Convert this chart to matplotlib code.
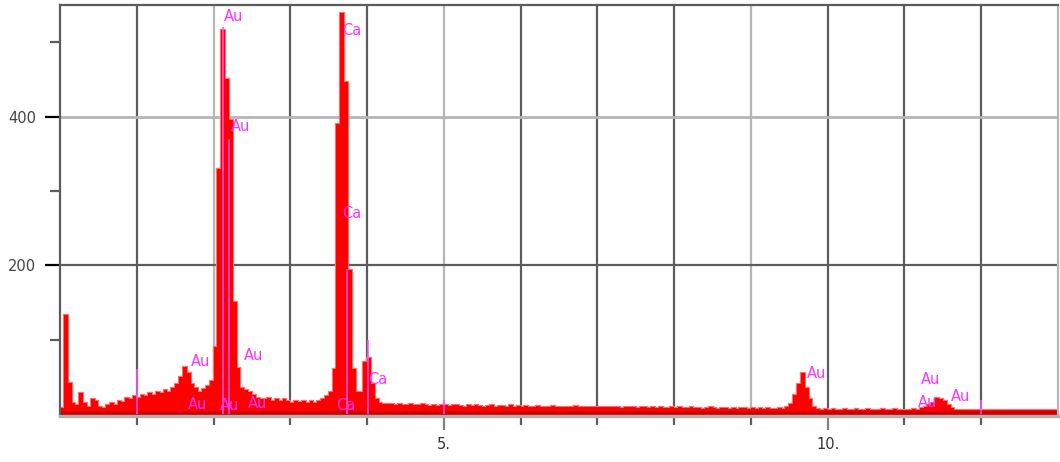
import numpy as np
import matplotlib
matplotlib.use("Agg")
import matplotlib.pyplot as plt

# ---------------- data ----------------
channel_width = 0.05  # keV per channel
counts = [
    # 0.00 - 0.95 keV
    8, 133, 42, 15, 12, 28, 15, 10, 20, 18, 10, 8, 12, 15, 12, 18, 16, 22, 20, 24,
    # 1.00 - 1.95
    22, 25, 24, 28, 26, 30, 28, 32, 30, 35, 40, 50, 63, 55, 40, 35, 30, 34, 38, 45,
    # 2.00 - 2.95
    90, 330, 516, 450, 395, 150, 62, 35, 32, 30, 25, 22, 20, 20, 22, 18, 20, 18, 20, 17,
    # 3.00 - 3.95
    15, 18, 16, 18, 15, 17, 15, 18, 20, 24, 30, 60, 390, 539, 447, 194, 60, 30, 30, 70,
    # 4.00 - 4.95
    75, 40, 20, 15, 14, 13, 14, 12, 13, 12, 12, 14, 12, 12, 13, 12, 11, 12, 11, 12,
    # 5.00 - 5.95
    12, 11, 12, 12, 11, 10, 12, 11, 12, 11, 10, 11, 12, 10, 11, 11, 10, 12, 10, 11,
    # 6.00 - 6.95
    10, 11, 10, 10, 11, 10, 9, 10, 11, 10, 9, 10, 10, 9, 11, 10, 9, 10, 9, 10,
    # 7.00 - 7.95
    9, 10, 9, 9, 10, 9, 8, 9, 10, 9, 8, 9, 9, 8, 9, 8, 9, 8, 8, 9,
    # 8.00 - 8.95
    8, 9, 8, 8, 9, 8, 8, 7, 8, 9, 8, 7, 8, 8, 7, 8, 7, 8, 8, 7,
    # 9.00 - 9.95
    8, 7, 8, 7, 8, 7, 7, 8, 7, 10, 14, 25, 40, 55, 35, 20, 10, 7, 6, 7,
    # 10.00 - 10.95
    6, 7, 6, 6, 7, 6, 6, 7, 6, 6, 7, 6, 6, 6, 7, 6, 6, 7, 6, 6,
    # 11.00 - 11.95
    6, 6, 7, 6, 8, 10, 12, 15, 22, 20, 18, 12, 8, 6, 6, 5, 6, 5, 5, 6,
    # 12.00 - 12.95
    5, 5, 6, 5, 5, 5, 6, 5, 5, 5, 5, 6, 5, 5, 5, 5, 5, 6, 5, 5,
]

# element marker lines (keV, height)
marker_energy = [1.00, 2.12, 2.20, 3.74, 4.01, 5.00, 12.00]
marker_height = [60, 520, 370, 195, 100, 19, 19]

# peak labels
label_text = ["Au", "Au", "Au", "Au", "Au", "Au", "Au",
              "Ca", "Ca", "Ca", "Ca",
              "Au", "Au", "Au", "Au"]
label_x = [2.13, 2.22, 2.39, 1.70, 1.66, 2.08, 2.45,
           3.675, 3.675, 4.01, 3.60,
           9.73, 11.21, 11.60, 11.18]
label_y = [534, 386, 78, 70, 13, 11, 14,
           516, 269, 47, 12,
           55, 47, 24, 16]

xtick_major = [5, 10]
xtick_labels = ["5.", "10."]
ytick_major = [200, 400]
ytick_labels = ["200", "400"]
ytick_minor = [100, 300, 500]

# ---------------- figure ----------------
W, H = 1060, 462
fig = plt.figure(figsize=(W / 100, H / 100), dpi=100)
ax = fig.add_axes([60 / W, (H - 416) / H, (1058 - 60) / W, (416 - 5) / H])

edges = np.arange(len(counts) + 1) * channel_width
ax.set_xlim(0, 13)
ax.set_ylim(-2.7, 550)

dark = "#5c5c5c"
light = "#b6b6b6"

# grid lines
for k in range(1, 13):
    ax.axvline(k, color=light if k in (2, 5, 9) else dark, lw=1.6, zorder=0.5)
ax.axhline(200, color=dark, lw=1.6, zorder=0.5)
ax.axhline(400, color=light, lw=2.0, zorder=0.5)

# spectrum
ax.stairs(counts, edges, fill=True, color="#ff0000", zorder=2, lw=0)
ax.stairs(counts, edges, fill=False, color="#ff7070", zorder=1.9, lw=1.6)
ax.axhspan(-2.7, 4, color="#cc0000", zorder=2.1, lw=0)

# marker lines
ax.vlines(marker_energy, 0, marker_height, colors="#ff55ff", lw=1.2, zorder=2.5, alpha=0.9)

# labels
for t, x, y in zip(label_text, label_x, label_y):
    ax.text(x, y, t, color="#ff33ff", fontsize=10.5, ha="left", va="center",
            family="DejaVu Sans", zorder=3)

# spines
for s in ax.spines.values():
    s.set_linewidth(1.6)
ax.spines["top"].set_color(dark)
ax.spines["left"].set_color(dark)
ax.spines["right"].set_color(light)
ax.spines["bottom"].set_color("#b0b0b0")
ax.spines["bottom"].set_linewidth(2.4)

# ticks
ax.set_xticks(xtick_major)
ax.set_xticklabels(xtick_labels)
ax.set_xticks(range(1, 13), minor=True)
ax.tick_params(axis="x", which="major", length=10, width=1.6, color="#808080",
               pad=5, labelsize=10.5, labelcolor="#333333")
ax.tick_params(axis="x", which="minor", length=6.5, width=1.6, color=dark)

ax.set_yticks(ytick_major)
ax.set_yticklabels(ytick_labels)
ax.set_yticks(ytick_minor, minor=True)
ax.tick_params(axis="y", which="major", length=11, width=1.6, pad=6,
               labelsize=10.5, labelcolor="#444444")
ax.tick_params(axis="y", which="minor", length=7, width=1.6, color=dark)
yt = ax.yaxis.get_major_ticks()
yt[0].tick1line.set_color(dark)
yt[1].tick1line.set_color(light)

fig.savefig("out.png", dpi=100, facecolor="white")
